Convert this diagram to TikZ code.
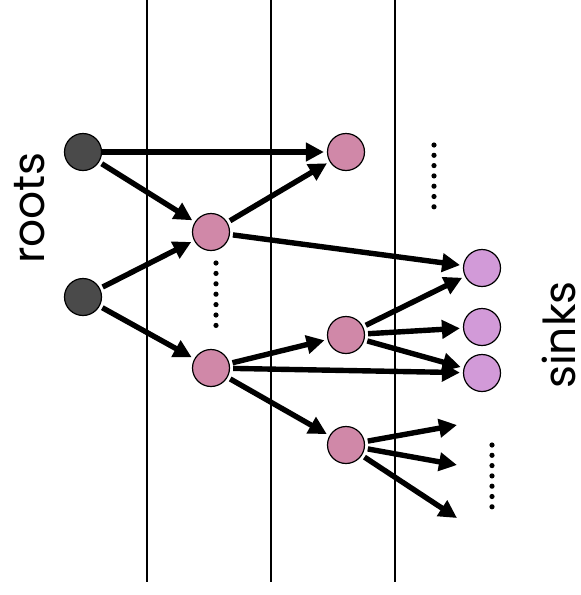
\documentclass[tikz,border=0pt]{standalone}
\usepackage{fontspec}
\setmainfont{Poppins}
\usetikzlibrary{arrows.meta}
\definecolor{rootfill}{HTML}{4A4A4A}
\definecolor{midfill}{HTML}{D088A8}
\definecolor{sinkfill}{HTML}{D29AD8}
\tikzset{
  vert/.style={circle, draw=black, line width=1.2pt, minimum size=37pt, inner sep=0pt},
  rootv/.style={vert, fill=rootfill},
  midv/.style={vert, fill=midfill},
  sinkv/.style={vert, fill=sinkfill},
  arr/.style={line width=5.4pt, -{Triangle[length=18pt,width=18pt]}, shorten <=3pt, shorten >=3pt},
  layer/.style={line width=1.8pt},
  dotcol/.style={fill=black},
  lbl/.style={font=\fontsize{44}{48}\selectfont, rotate=90, inner sep=0pt, anchor=base}
}
\begin{document}
\begin{tikzpicture}[x=1pt, y=-1pt]
\useasboundingbox (0,0) rectangle (581,595);

% layer separators
\coordinate (l1t) at (147,0);   \coordinate (l1b) at (147,582);
\coordinate (l2t) at (271,0);   \coordinate (l2b) at (271,582);
\coordinate (l3t) at (395,0);   \coordinate (l3b) at (395,582);
\draw[layer] (l1t) -- (l1b);
\draw[layer] (l2t) -- (l2b);
\draw[layer] (l3t) -- (l3b);

% vertices
\node[rootv] (r1) at (83,152) {};
\node[rootv] (r2) at (83,297) {};
\node[midv] (a1) at (211,232) {};
\node[midv] (a2) at (211,368) {};
\node[midv] (b1) at (346,152) {};
\node[midv] (b2) at (346,335) {};
\node[midv] (b3) at (346,445) {};
\node[sinkv] (s1) at (482,268) {};
\node[sinkv] (s2) at (482,327) {};
\node[sinkv] (s3) at (482,373) {};

% open ends of the last fan
\coordinate (e1) at (457,425);
\coordinate (e2) at (457,465);
\coordinate (e3) at (457,518);

% edges
\draw[arr, shorten <=0pt] (r1) -- (b1);
\draw[arr] (r1) -- (a1);
\draw[arr] (r2) -- (a1);
\draw[arr] (r2) -- (a2);
\draw[arr] (a1) -- (b1);
\draw[arr] (a1) -- (s1);
\draw[arr] (a2) -- (b2);
\draw[arr] (a2) -- (s3);
\draw[arr] (a2) -- (b3);
\draw[arr] (b2) -- (s1);
\draw[arr] (b2) -- (s2);
\draw[arr] (b2) -- (s3);
\draw[arr, shorten >=0pt] (b3) -- (e1);
\draw[arr, shorten >=0pt] (b3) -- (e2);
\draw[arr, shorten >=0pt] (b3) -- (e3);

% ellipsis dots
\foreach \k in {0,...,6} {
  \fill[dotcol] (216,263+10.4*\k) circle (2.6pt);
  \fill[dotcol] (434,145+10.3*\k) circle (2.6pt);
  \fill[dotcol] (492,445+10.3*\k) circle (2.6pt);
}

% labels
\node[lbl] (roots) at (44,208) {roots};
\node[lbl] (sinks) at (575,335) {sinks};
\end{tikzpicture}
\end{document}
